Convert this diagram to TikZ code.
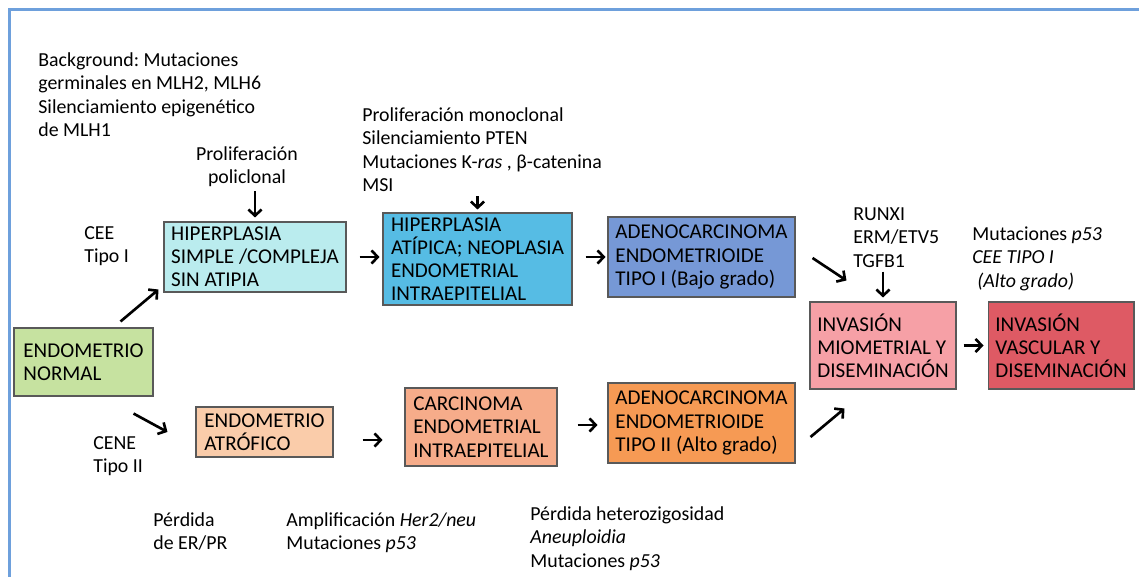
\documentclass[tikz,border=0pt]{standalone}
\usepackage{fontspec}
\setmainfont{Carlito}
\usepackage{tikz}
\usetikzlibrary{arrows.meta,calc}
\frenchspacing

\definecolor{frameblue}{RGB}{110,160,220}
\definecolor{cnormal}{RGB}{198,226,160}
\definecolor{csimple}{RGB}{186,236,238}
\definecolor{catipica}{RGB}{86,188,228}
\definecolor{cadenoI}{RGB}{118,152,214}
\definecolor{cinvmio}{RGB}{246,160,166}
\definecolor{cinvvas}{RGB}{222,90,100}
\definecolor{catrof}{RGB}{250,204,170}
\definecolor{ccarcin}{RGB}{246,172,138}
\definecolor{cadenoII}{RGB}{246,154,84}

\begin{document}
\begin{tikzpicture}[x=0.02cm,y=-0.02cm,
  stage/.style={draw=black!65,line width=0.6pt,align=left,inner sep=2pt,
    font=\fontsize{12}{13.2}\selectfont},
  note/.style={align=left,inner sep=0pt,anchor=north west,
    font=\fontsize{11.3}{13.4}\selectfont},
  flow/.style={-{Straight Barb[length=3.5pt,width=7.5pt]},line width=1.5pt}]
\useasboundingbox (0,0) rectangle (1139,577);
%% frame
\draw[frameblue,line width=0.06cm] (9.5,577) -- (9.5,9.5) -- (1139,9.5);

%% stages
\node[stage,fill=cnormal,minimum width=2.78cm,minimum height=1.36cm] (normal) at (83.5,362) {ENDOMETRIO\\NORMAL};
\node[stage,fill=csimple,minimum width=3.64cm,minimum height=1.40cm] (simple) at (255,257) {HIPERPLASIA\\SIMPLE /COMPLEJA\\SIN ATIPIA};
\node[stage,fill=catipica,minimum width=3.78cm,minimum height=1.84cm] (atipica) at (477.5,259) {HIPERPLASIA\\ATÍPICA; NEOPLASIA\\ENDOMETRIAL\\INTRAEPITELIAL};
\node[stage,fill=cadenoI,minimum width=3.74cm,minimum height=1.60cm] (adenoI) at (701.5,257) {ADENOCARCINOMA\\ENDOMETRIOIDE\\TIPO I (Bajo grado)};
\node[stage,fill=cinvmio,minimum width=2.92cm,minimum height=1.74cm] (invmio) at (883,345.5) {INVASIÓN\\MIOMETRIAL Y\\DISEMINACIÓN};
\node[stage,fill=cinvvas,minimum width=2.92cm,minimum height=1.74cm] (invvas) at (1061,345.5) {INVASIÓN\\VASCULAR Y\\DISEMINACIÓN};
\node[stage,fill=catrof,minimum width=2.74cm,minimum height=1.00cm] (atrof) at (264.5,432) {ENDOMETRIO\\ATRÓFICO};
\node[stage,fill=ccarcin,minimum width=3.04cm,minimum height=1.56cm] (carcin) at (481,427) {CARCINOMA\\ENDOMETRIAL\\INTRAEPITELIAL};
\node[stage,fill=cadenoII,minimum width=3.74cm,minimum height=1.60cm] (adenoII) at (701.5,423) {ADENOCARCINOMA\\ENDOMETRIOIDE\\TIPO II (Alto grado)};

%% notes
\node[note] (bg) at (38,52) {Background: Mutaciones\\germinales en MLH2, MLH6\\Silenciamiento epigenético\\de MLH1};
\node[note,align=center,anchor=north] (policlonal) at (247,146) {Proliferación\\policlonal};
\node[note] (mono) at (362,107) {Proliferación monoclonal\\Silenciamiento PTEN\\Mutaciones K-\textit{ras} , β-catenina\\MSI};
\node[note] (cee) at (84,226) {CEE\\Tipo I};
\node[note] (cene) at (93,436) {CENE\\Tipo II};
\node[note] (perdida) at (153,512) {Pérdida\\de ER/PR};
\node[note] (amplif) at (286,512) {Amplificación \textit{Her2/neu}\\Mutaciones \textit{p53}};
\node[note] (hetero) at (530,506) {Pérdida heterozigosidad\\\textit{Aneuploidia}\\Mutaciones \textit{p53}};
\node[note] (runx) at (853,207) {RUNXI\\ERM/ETV5\\TGFB1};
\node[note] (mutp) at (972,226) {Mutaciones \textit{p53}\\\textit{CEE TIPO I}\\\hspace{0.25em}\textit{(Alto grado)}};

%% arrows
\draw[flow] ($(normal.north east)+(-33,-6)$) -- ($(simple.south west)+(-5,-3)$);
\draw[flow] ($(normal.south east)+(-20,17)$) -- ($(atrof.west)+(-28,0)$);
\draw[flow,shorten <=0.26cm,shorten >=0.06cm] (simple.east) -- (simple.east -| atipica.west);
\draw[flow,shorten <=0.26cm,shorten >=0.04cm] (atipica.east |- adenoI.west) -- (adenoI.west);
\draw[flow,shorten <=0.08cm,shorten >=0.08cm] (simple.north |- policlonal.south) -- (simple.north);
\draw[flow,shorten <=0.08cm,shorten >=0.06cm] (atipica.north |- mono.south) -- (atipica.north);
\draw[flow] ($(adenoI.east)+(17,1)$) -- ($(invmio.north west)+(37,-21)$);
\draw[flow,shorten <=0.08cm,shorten >=0.08cm] (invmio.north |- runx.south) -- (invmio.north);
\draw[flow,shorten <=0.14cm,shorten >=0.08cm] (invmio.east) -- (invvas.west);
\draw[flow] ($(atrof.east)+(29,8)$) -- ($(carcin.west)+(-22,13)$);
\draw[flow] ($(carcin.east)+(20,-2)$) -- ($(adenoII.west)+(-10,2)$);
\draw[flow] ($(adenoII.east)+(15,14)$) -- ($(invmio.south west)+(35,19)$);
\end{tikzpicture}
\end{document}
